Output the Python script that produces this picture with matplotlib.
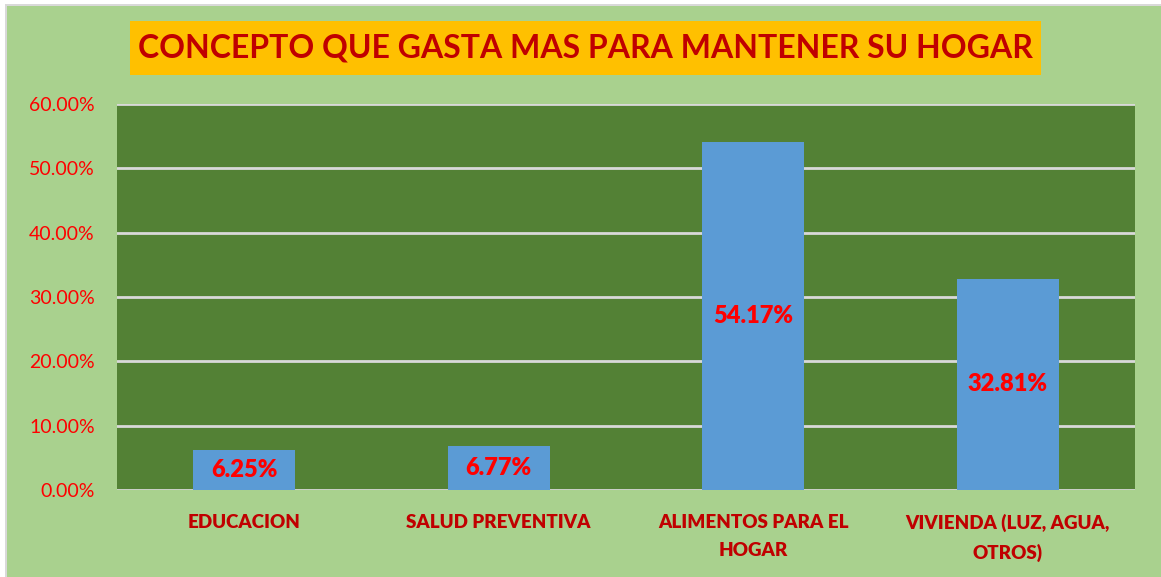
import matplotlib
matplotlib.use("Agg")
import matplotlib.pyplot as plt
from matplotlib.patches import Rectangle
from matplotlib.ticker import FuncFormatter

categories = ["EDUCACION", "SALUD PREVENTIVA", "ALIMENTOS PARA EL\nHOGAR",
              "VIVIENDA (LUZ, AGUA,\nOTROS)"]
values = [6.25, 6.77, 54.17, 32.81]
yticks = [0, 10, 20, 30, 40, 50, 60]
title = "CONCEPTO QUE GASTA MAS PARA MANTENER SU HOGAR"

W, H = 1161, 577
fig = plt.figure(figsize=(W / 100, H / 100), dpi=100, facecolor="white")

# chart area background with light gray border (left/top visible)
fig.patches.append(Rectangle((5 / W, 0), 1 - 5 / W, 1 - 4 / H,
                             transform=fig.transFigure, facecolor="#D9D9D9",
                             edgecolor="none", zorder=-2))
fig.patches.append(Rectangle((7 / W, 0), 1 - 7 / W, 1 - 6 / H,
                             transform=fig.transFigure, facecolor="#A9D18E",
                             edgecolor="none", zorder=-1))

ax = fig.add_axes([117 / W, 1 - 490 / H, (1135 - 117) / W, (490 - 104) / H])
ax.set_facecolor("#538135")
x = list(range(len(categories)))
bars = ax.bar(x, values, width=0.4, color="#5B9BD5", zorder=3)
ax.set_xlim(-0.5, len(categories) - 0.5)
ax.set_ylim(0, 60)
ax.set_yticks(yticks)
ax.yaxis.set_major_formatter(FuncFormatter(lambda v, p: f"{v:.2f}%"))
ax.grid(axis="y", color="#D9D9D9", linewidth=2, zorder=1)
ax.set_axisbelow(True)
for s in ax.spines.values():
    s.set_visible(False)
ax.tick_params(axis="y", length=0, pad=16, labelsize=14, labelcolor="#FF0000")
ax.tick_params(axis="x", length=0, pad=17)
for t in ax.get_yticklabels():
    t.set_fontfamily("Lato")
ax.set_xticks(x)
ax.set_xticklabels(categories, fontfamily="Lato", fontweight="heavy",
                   fontsize=13.5, color="#C00000", linespacing=1.8)

for b, v in zip(bars, values):
    ax.text(b.get_x() + b.get_width() / 2, v / 2, f"{v:.2f}%",
            ha="center", va="center", color="#FF0000", fontsize=17,
            fontweight="heavy", fontfamily="Lato", zorder=4)

fig.patches.append(Rectangle((130 / W, 1 - 75 / H), (1041 - 130) / W, 54 / H,
                             transform=fig.transFigure, facecolor="#FFC000",
                             edgecolor="none", zorder=1))
fig.text((130 + 1041) / 2 / W, 1 - 48 / H, title, ha="center", va="center",
         fontsize=23, fontweight="bold", fontfamily="Lato", color="#C00000",
         zorder=5)

fig.savefig("out.png", dpi=100, facecolor=fig.get_facecolor())
